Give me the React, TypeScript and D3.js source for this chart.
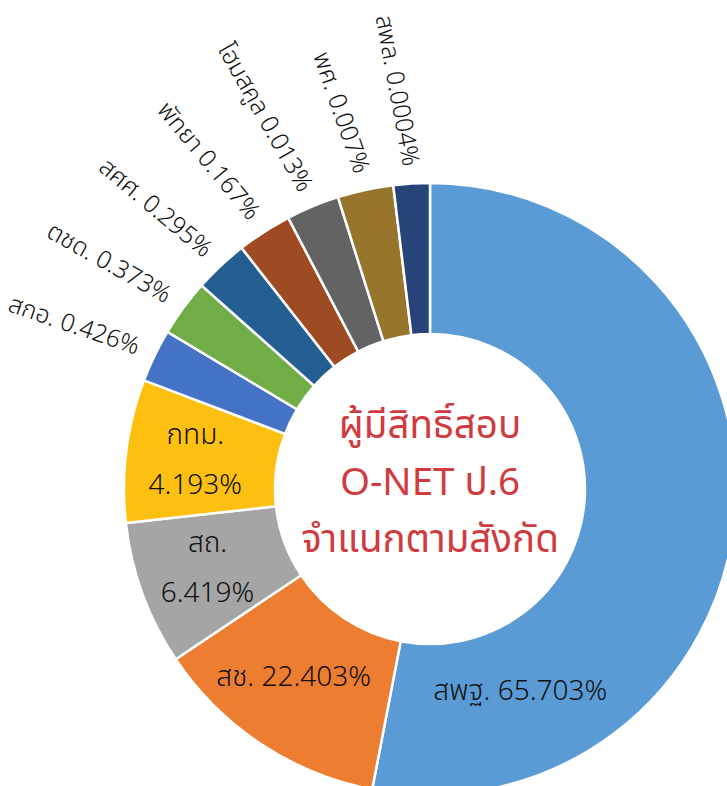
import React from "react";
import * as d3 from "d3";

const categories = ["สพฐ.", "สช.", "สถ.", "กทม.", "สกอ.", "ตชด.", "สศศ.", "พัทยา", "โฮมสคูล", "พศ.", "สพล."];
const percentLabels = ["65.703%", "22.403%", "6.419%", "4.193%", "0.426%", "0.373%", "0.295%", "0.167%", "0.013%", "0.007%", "0.0004%"];
// share of the ring each slice takes in the picture (degrees), not the labelled value
const sliceSizes = [190.9, 45.3, 27.4, 27.2, 10.1, 10.8, 10.3, 10.4, 10.1, 10.6, 6.9];
const colors = ["#5B9BD5", "#ED7D31", "#A5A5A5", "#FDC010", "#4472C4", "#70AD47", "#255E91", "#9E4A22", "#636363", "#98752C", "#264478"];
const titleLines = ["ผู้มีสิทธิ์สอบ", "O-NET ป.6", "จำแนกตามสังกัด"];

const W = 727;
const H = 786;
const cx = 430;
const cy = 489;
const outerR = 306;
const innerR = 155;
const font = "'Noto Sans Thai', 'Noto Sans', 'DejaVu Sans', sans-serif";

export default function App() {
  const pie = d3.pie<number>().sort(null).value((d) => d);
  const arcs = pie(sliceSizes);
  const arc = d3.arc<d3.PieArcDatum<number>>().innerRadius(innerR).outerRadius(outerR);
  const toDeg = (a: number) => (a * 180) / Math.PI;

  return (
    <svg width={W} height={H} style={{ position: "absolute", left: 0, top: 0, background: "#fff" }}>
      <g transform={`translate(${cx},${cy})`}>
        {arcs.map((a, i) => (
          <path key={i} d={arc(a) || ""} fill={colors[i]} stroke="#fff" strokeWidth={2.5} />
        ))}

        {arcs.map((a, i) => {
          const mid = (a.startAngle + a.endAngle) / 2;
          if (i === 0) {
            // big slice: label moved down into the visible part
            const ang = (156 * Math.PI) / 180;
            const r = 222;
            return (
              <text key={i} x={r * Math.sin(ang)} y={-r * Math.cos(ang)} textAnchor="middle" dominantBaseline="central"
                fontFamily={font} fontSize={28} fontWeight={300} fill="#111">
                {categories[i]} {percentLabels[i]}
              </text>
            );
          }
          if (i === 1) {
            const [x, y] = arc.centroid(a);
            return (
              <text key={i} x={x - 9} y={y - 4} textAnchor="middle" dominantBaseline="central"
                fontFamily={font} fontSize={28} fontWeight={300} fill="#111">
                {categories[i]} {percentLabels[i]}
              </text>
            );
          }
          if (i < 4) {
            const [x, y] = arc.centroid(a);
            return (
              <g key={i} fontFamily={font} fontSize={28} fontWeight={300} fill="#111" textAnchor="middle">
                <text x={x - 6} y={y - 25} dominantBaseline="central">{categories[i]}</text>
                <text x={x - 6} y={y + 25} dominantBaseline="central">{percentLabels[i]}</text>
              </g>
            );
          }
          const r = 324;
          const x = r * Math.sin(mid);
          const y = -r * Math.cos(mid);
          const rot = toDeg(mid) - 270 - 7;
          return (
            <text key={i} x={x} y={y} textAnchor="end" dominantBaseline="central"
              transform={`rotate(${rot},${x},${y})`} fontFamily={font} fontSize={24.5} fontWeight={300} fill="#111">
              {categories[i]} {percentLabels[i]}
            </text>
          );
        })}

        {titleLines.map((t, i) => (
          <text key={t} x={0} y={(i - 1) * 57 - 6} textAnchor="middle" dominantBaseline="central"
            fontFamily={font} fontSize={38.5} fill="#D13B40">
            {t}
          </text>
        ))}
      </g>
    </svg>
  );
}
